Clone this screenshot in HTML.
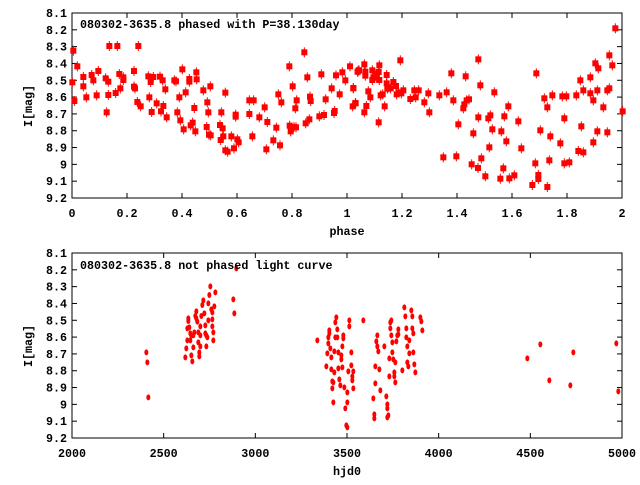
<!DOCTYPE html><html><head><style>body{margin:0;background:#fff}svg text{font-family:"Liberation Mono",monospace;font-weight:bold;font-size:11.7px;fill:#000}</style></head><body>
<svg id="s" width="640" height="480" xmlns="http://www.w3.org/2000/svg">
<rect x="72" y="13" width="550" height="185" fill="none" stroke="#000"/>
<rect x="72" y="253" width="550" height="185" fill="none" stroke="#000"/>
<g id="tk" stroke="#000"></g>
<g id="pt" fill="#f00" stroke="#f00"></g>
<text x="80" y="28">080302-3635.8 phased with P=38.130day</text>
<text x="80" y="269">080302-3635.8 not phased light curve</text>
<text x="347" y="235" text-anchor="middle">phase</text>
<text x="347" y="475" text-anchor="middle">hjd0</text>
<text transform="translate(32,106) rotate(-90)" text-anchor="middle">I[mag]</text>
<text transform="translate(32,346) rotate(-90)" text-anchor="middle">I[mag]</text>
<g id="lb"></g>
</svg>
<script>
var NS="http://www.w3.org/2000/svg",tk=document.getElementById('tk'),pt=document.getElementById('pt'),lb=document.getElementById('lb');
function el(p,n,a,t){var e=document.createElementNS(NS,n);for(var k in a)e.setAttribute(k,a[k]);if(t)e.textContent=t;p.appendChild(e);}
var ml=['8.1','8.2','8.3','8.4','8.5','8.6','8.7','8.8','8.9','9','9.1','9.2'];
[13,253].forEach(function(t){for(var i=0;i<12;i++){var y=t+i*185/11;el(tk,'line',{x1:72,x2:77,y1:y,y2:y});el(tk,'line',{x1:617,x2:622,y1:y,y2:y});el(lb,'text',{x:67,y:y+4,'text-anchor':'end'},ml[i]);}});
var pl=['0','0.2','0.4','0.6','0.8','1','1.2','1.4','1.6','1.8','2'];
for(var i=0;i<11;i++){var x=72+i*55;el(tk,'line',{x1:x,x2:x,y1:13,y2:18});el(tk,'line',{x1:x,x2:x,y1:193,y2:198});el(lb,'text',{x:x,y:217,'text-anchor':'middle'},pl[i]);}
var hl=['2000','2500','3000','3500','4000','4500','5000'];
for(var i=0;i<7;i++){var x=72+i*550/6;el(tk,'line',{x1:x,x2:x,y1:253,y2:258});el(tk,'line',{x1:x,x2:x,y1:433,y2:438});el(lb,'text',{x:x,y:457,'text-anchor':'middle'},hl[i]);}
var z1=[40,152,43,303,37,247,52,199,70,231,70,259,79,292,95,225,100,241,110,286,115,213,137,235,140,337,145,245,145,285,148,138,167,279,172,138,178,222,181,265,190,232,190,240,222,213,222,260,225,265,232,306,235,138,242,319,265,229,268,292,272,246,275,336,280,231,290,310,300,230,303,334,308,241,310,318,316,268,320,352,343,241,348,244,352,337,358,292,361,361,367,208,371,388,377,277,388,237,388,245,392,376,398,368,403,324,406,394,409,217,410,238,430,271,440,381,442,307,445,337,447,404,451,259,452,406,480,375,482,420,484,337,488,385,490,409,496,278,496,451,503,455,514,409,522,445,527,344,527,350,532,418,536,427,568,342,568,301,577,409,581,301,598,352,614,322,619,448,622,366,640,421,649,383,655,283,660,436,664,307,688,199,689,377,692,394,698,259,702,381,706,325,708,382,710,301,733,157,737,370,742,232,748,358,750,290,752,303,778,349,784,223,792,345,797,298,815,265,822,339,824,333,828,226,839,283,847,217,856,241,870,199,878,319,880,264,886,309,893,215,897,211];
var z2=[53,215,56,211,47,310,40,265,73,193,73,337,76,215,76,227,79,318,85,274,91,292,97,211,97,240,100,232,107,227,110,233,116,367,116,216,118,196,118,240,122,286,128,283,134,319,140,225,140,250,142,266,146,262,152,265,160,246,168,258,170,283,176,277,181,181,184,280,190,271,211,297,223,271,227,292,236,271,253,307,265,280,268,337,298,286,310,472,320,277,334,220,340,301,349,469,355,373,370,325,373,313,377,229,380,301,387,298,395,493,400,400,414,504,415,178,415,352,421,256,424,475,436,529,445,355,448,442,451,346,457,388,463,277,481,536,484,394,490,505,493,349,499,424,505,319,508,535,523,526,535,364,544,445,577,555,586,490,589,220,595,525,595,537,601,391,613,295,622,322,622,561,628,481,631,409,637,286,661,430,667,289,673,355,673,490,679,289,688,487,709,286,715,453,721,241,724,379,730,457,730,271,751,232,751,280,760,427,760,301,766,190,772,394,772,271,775,205,790,322,802,397,802,271,808,166,808,265,817,196,826,85,848,334];
function sq(x,y){el(pt,'rect',{x:x-3,y:y-3,width:6,height:6,stroke:'none'});el(pt,'line',{x1:x,x2:x,y1:y-5,y2:y+5,'stroke-width':1});}
for(var i=0;i<z1.length;i+=2)sq(z1[i]/3+60,z1[i+1]/3);
for(var i=0;i<z2.length;i+=2)sq(z2[i]/3+340,z2[i+1]/3);
var z3=[259,322,262,352,265,457,376,337,379,310,382,286,382,250,385,220,385,228,388,247,391,286,391,265,394,272,394,331,397,349,400,307,400,271,403,262,406,213,409,199,409,220,412,230,415,292,415,262,418,322,418,334,421,304,421,271,421,244,424,213,427,180,430,166,433,205,436,241,436,265,439,304,439,271,442,277,445,226,445,175,448,150,451,124,454,193,457,202,457,244,457,223,460,262,460,286,463,184,466,142,520,163,523,205,529,70];
var z4=[52,286,79,364,82,325,85,277,85,295,88,256,88,265,91,310,94,337,94,373,97,409,97,430,100,472,100,412,103,319,103,382,106,277,106,232,109,217,112,253,112,277,115,322,115,370,118,403,121,421,124,343,124,331,127,367,127,304,130,280,130,271,133,427,136,490,139,541,142,547,142,442,142,472,145,379,148,244,148,226,154,322,154,361,157,394,157,406,160,430,160,379,190,226,220,460,223,520,223,508,226,415,226,364,229,289,232,271,232,304,235,319,238,373,241,436,253,304,259,454,262,478,262,490,262,517,265,511,268,340,268,394,271,250,271,232,274,226,274,271,277,292,277,322,280,343,283,382,283,394,286,412,286,352,289,289,292,271,295,253,295,268,307,376,313,187,316,214,319,277,319,250,322,304,322,352,325,364,328,325,328,286,334,196,337,214,337,250,340,265,340,322,343,358,346,382,361,217,364,229,367,256,682,340,721,298,748,406,820,322,811,421,949,295,955,439];
function el2(x,y){el(pt,'ellipse',{cx:x,cy:y,rx:2,ry:3,stroke:'none'});}
for(var i=0;i<z3.length;i+=2)el2(z3[i]/3+60,z3[i+1]/3+245);
for(var i=0;i<z4.length;i+=2)el2(z4[i]/3+300,z4[i+1]/3+245);
</script>
</body></html>
